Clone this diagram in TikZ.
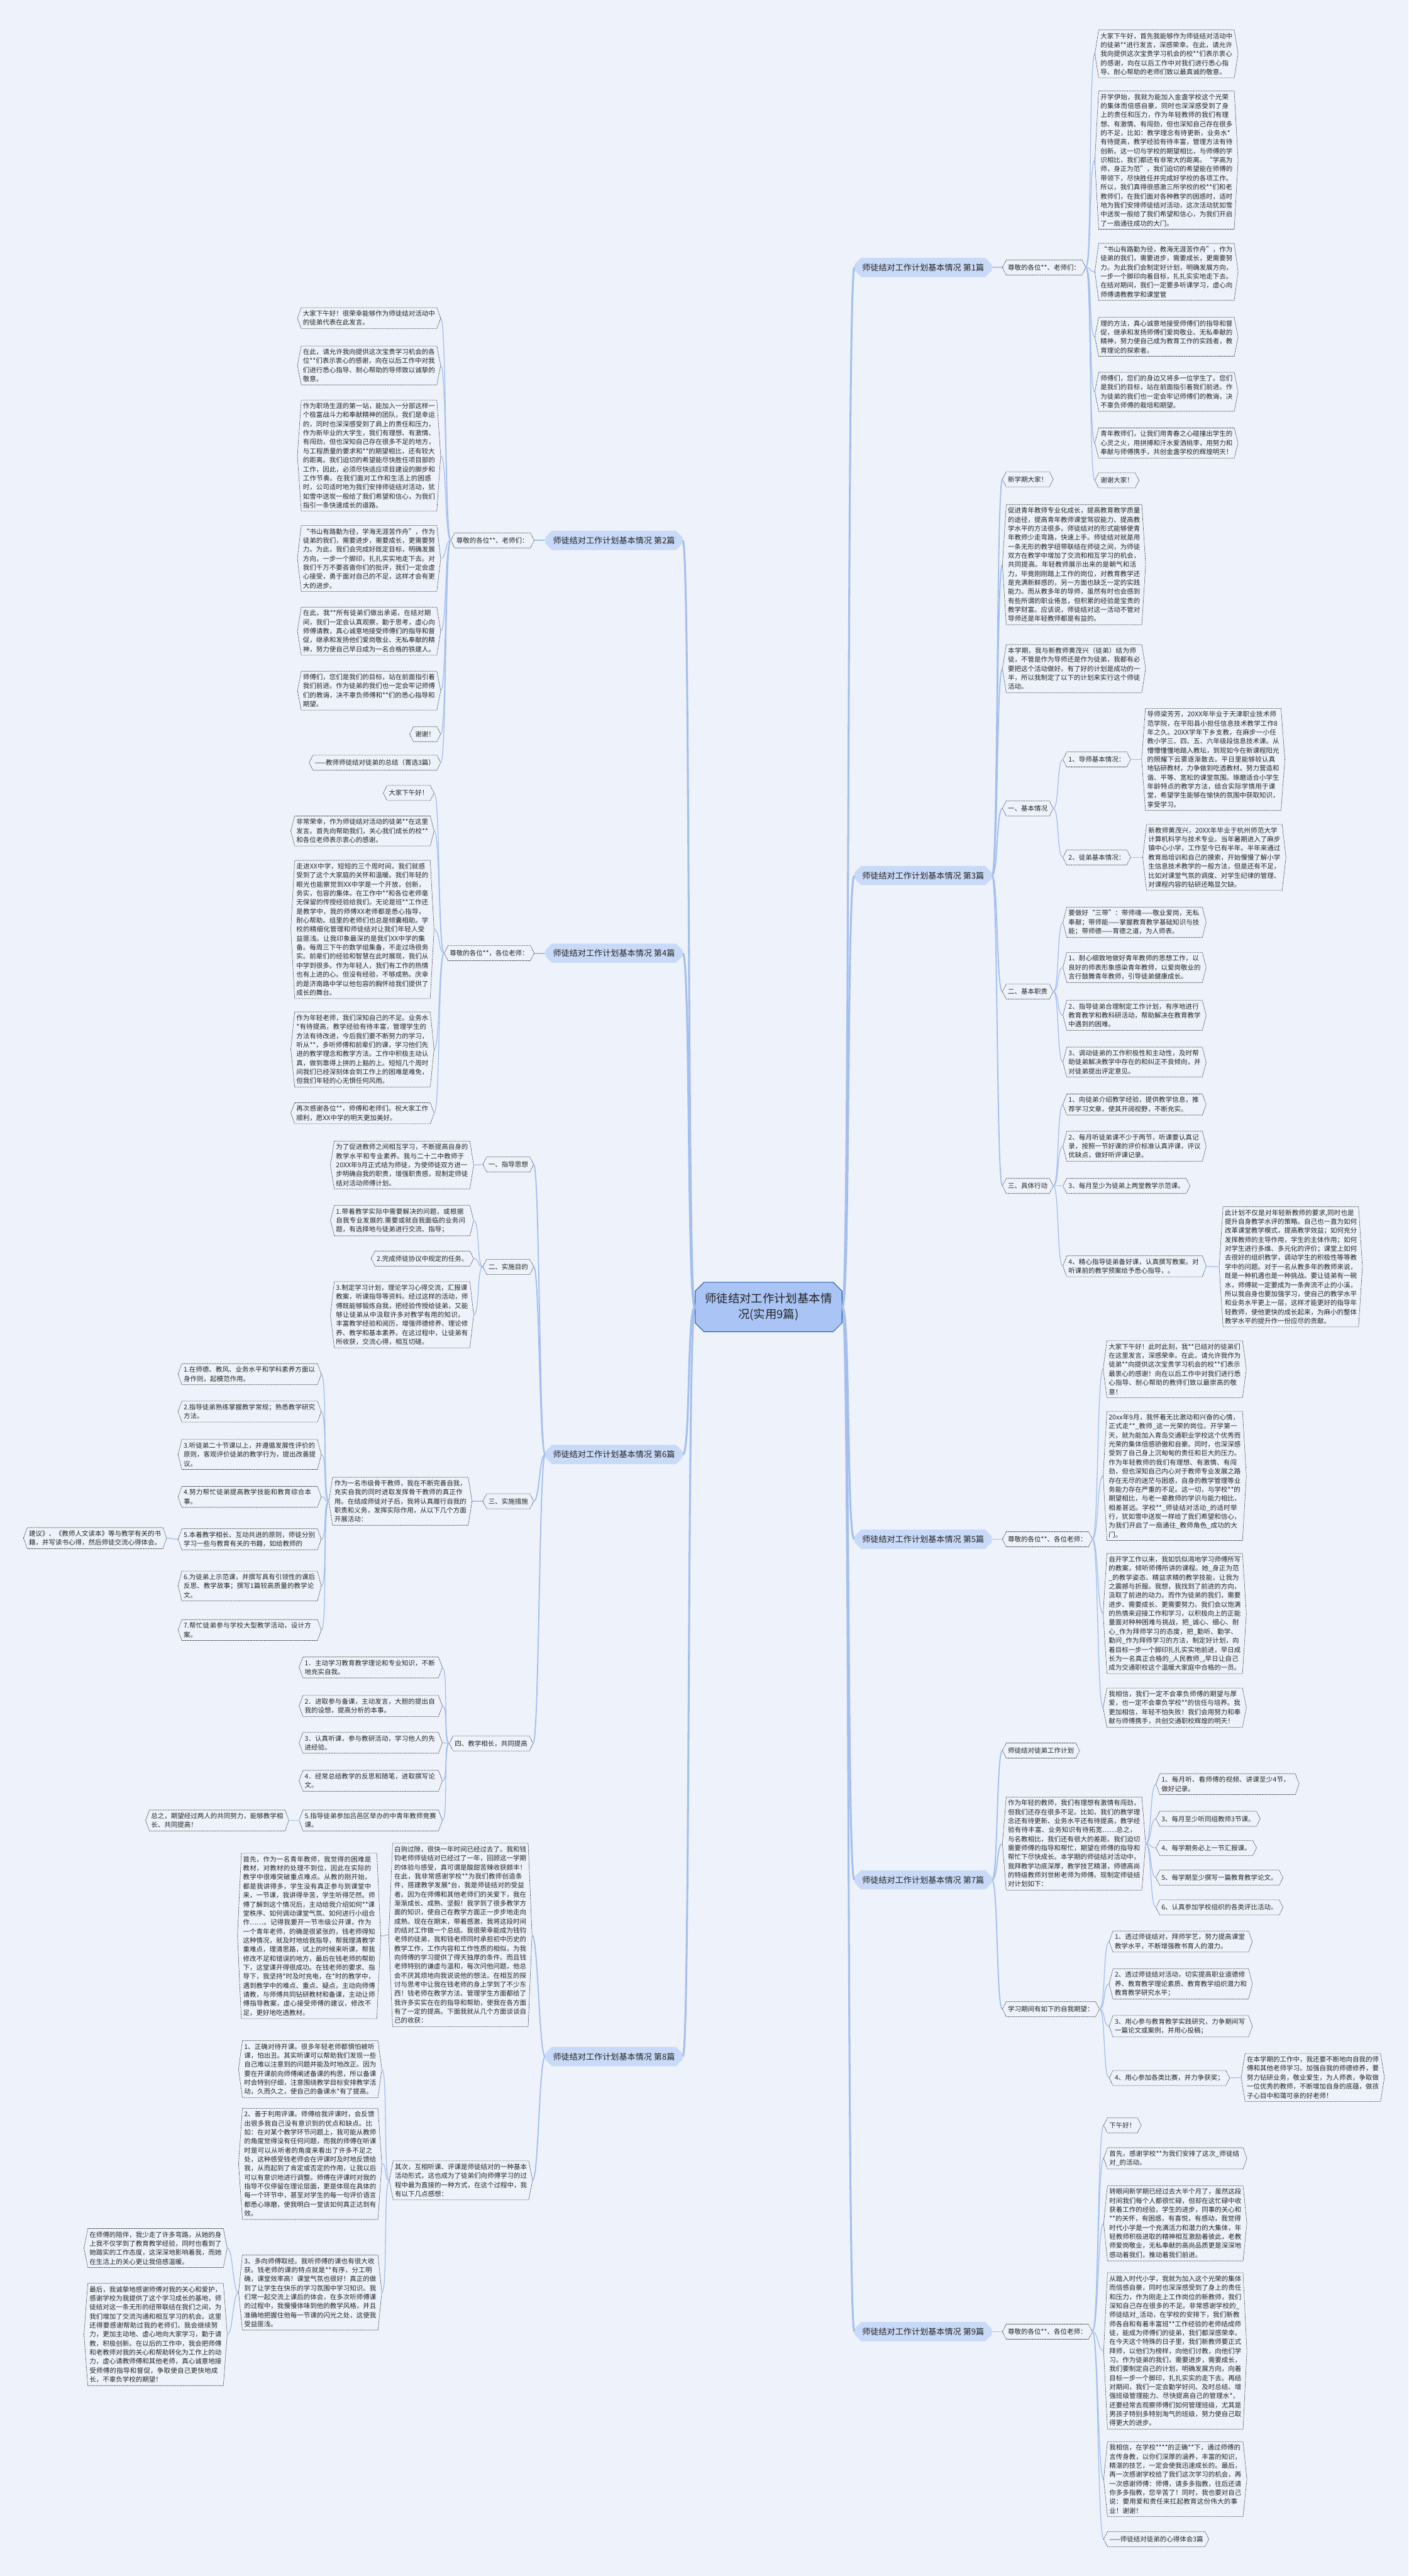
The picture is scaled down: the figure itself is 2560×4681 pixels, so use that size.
\documentclass[tikz,border=0pt]{standalone}
\usepackage{fontspec}
\setmainfont{Noto Sans CJK SC}
\usetikzlibrary{shapes.misc}
\XeTeXlinebreaklocale "zh"
\XeTeXlinebreakskip=0pt plus 1pt

\definecolor{bgblue}{RGB}{238,243,251}
\definecolor{rootfill}{RGB}{170,196,245}
\definecolor{rootedge}{RGB}{40,90,170}
\definecolor{partfill}{RGB}{201,218,248}
\definecolor{linkblue}{RGB}{164,191,238}
\definecolor{ink}{RGB}{35,35,35}

\tikzset{
  hexline/.style={draw=ink, line width=0.7pt, dash pattern=on 1.8pt off 1.2pt},
  hexbox/.style={font=\fontsize{12}{16.4}\selectfont, text=ink, inner xsep=10pt, inner ysep=5pt, minimum height=27pt,
    append after command={\pgfextra{\edef\hexname{\tikzlastnode}
      \draw[hexline] (\hexname.west) -- ([xshift=7pt]\hexname.north west) -- ([xshift=-7pt]\hexname.north east)
        -- (\hexname.east) -- ([xshift=-7pt]\hexname.south east) -- ([xshift=7pt]\hexname.south west) -- cycle;}}},
  tbox/.style={hexbox, text width=240pt, align=left},
  tr/.style={tbox, anchor=west}, tl/.style={tbox, anchor=east},
  sr/.style={hexbox, anchor=west}, sl/.style={hexbox, anchor=east},
  part/.style={chamfered rectangle, chamfered rectangle xsep=6pt, chamfered rectangle ysep=6pt, fill=partfill,
    text=ink, font=\fontsize{15}{18}\selectfont, inner xsep=8pt, minimum height=35pt},
  partr/.style={part, anchor=west}, partl/.style={part, anchor=east},
  root/.style={chamfered rectangle, chamfered rectangle xsep=8pt, chamfered rectangle ysep=8pt, fill=rootfill,
    draw=rootedge, line width=1.2pt, text=ink, font=\fontsize{21}{28}\selectfont, align=center, inner xsep=10pt, inner ysep=12pt},
  trunk/.style={draw=linkblue, line width=3.5pt},
  twig/.style={draw=linkblue, line width=2.2pt},
  link/.style={draw=linkblue, line width=1.5pt}
}

\begin{document}
\begin{tikzpicture}[x=1pt, y=-1pt]
  \useasboundingbox (0,0) rectangle (2560,4681);
  \fill[bgblue] (0,0) rectangle (2560,4681);

  \node[root] (root) at (1397,2375) {师徒结对工作计划基本情\\况(实用9篇)};

  % right: 1, 3, 5, 7, 9
  \node[partr] (s1) at (1553,486) {师徒结对工作计划基本情况 第1篇};
  \node[sr] (p1) at (1822,486) {尊敬的各位**、老师们：};
  \node[tr] (r1a) at (1990,98) {大家下午好，首先我能够作为师徒结对活动中的徒弟**进行发言，深感荣幸。在此，请允许我向提供这次宝贵学习机会的校**们表示衷心的感谢，向在以后工作中对我们进行悉心指导、耐心帮助的老师们致以最真诚的敬意。};
  \node[tr] (r1b) at (1990,291) {开学伊始，我就为能加入金盏学校这个光荣的集体而倍感自豪，同时也深深感受到了身上的责任和压力，作为年轻教师的我们有理想、有激情、有闯劲，但也深知自己存在很多的不足，比如：教学理念有待更新，业务水*有待提高，教学经验有待丰富，管理方法有待创新。这一切与学校的期望相比，与师傅的学识相比，我们都还有非常大的距离。“学高为师，身正为范”，我们迫切的希望能在师傅的带领下，尽快胜任并完成好学校的各项工作。所以，我们真得很感激三所学校的校**们和老教师们，在我们面对各种教学的困惑时，适时地为我们安排师徒结对活动，这次活动犹如雪中送炭一般给了我们希望和信心，为我们开启了一扇通往成功的大门。};
  \node[tr] (r1c) at (1990,494) {“书山有路勤为径，教海无涯苦作舟”，作为徒弟的我们，需要进步，需要成长，更需要努力。为此我们会制定好计划，明确发展方向，一步一个脚印向着目标，扎扎实实地走下去。在结对期间，我们一定要多听课学习，虚心向师傅请教教学和课堂管};
  \node[tr] (r1d) at (1990,612) {理的方法，真心诚意地接受师傅们的指导和督促，继承和发扬师傅们爱岗敬业、无私奉献的精神，努力使自己成为教育工作的实践者，教育理论的探索者。};
  \node[tr] (r1e) at (1990,712) {师傅们，您们的身边又将多一位学生了。您们是我们的目标，站在前面指引着我们前进。作为徒弟的我们也一定会牢记师傅们的教诲，决不辜负师傅的栽培和期望。};
  \node[tr] (r1f) at (1990,805) {青年教师们，让我们用青春之心碰撞出学生的心灵之火，用拼搏和汗水爱洒桃李，用努力和奉献与师傅携手，共创金盏学校的辉煌明天！};
  \node[sr] (r1g) at (1990,873) {谢谢大家！};

  \node[partr] (s3) at (1553,1591) {师徒结对工作计划基本情况 第3篇};
  \node[sr] (q3a) at (1822,871) {新学期大家！};
  \node[tr] (q3b) at (1822,1026) {促进青年教师专业化成长，提高教育教学质量的途径，提高青年教师课堂驾驭能力、提高教学水平的方法很多。师徒结对的形式能够使青年教师少走弯路，快速上手。师徒结对就是用一条无形的教学纽带联结在师徒之间，为师徒双方在教学中增加了交流和相互学习的机会，共同提高。年轻教师展示出来的是朝气和活力，毕竟刚刚踏上工作的岗位，对教育教学还是充满新鲜感的，另一方面也缺乏一定的实践能力。而从教多年的导师，虽然有时也会感到有些所谓的职业倦怠，但积累的经验是宝贵的教学财富。应该说，师徒结对这一活动不管对导师还是年轻教师都是有益的。};
  \node[tr] (q3c) at (1822,1215) {本学期，我与新教师黄茂兴（徒弟）结为师徒，不管是作为导师还是作为徒弟，我都有必要把这个活动做好。有了好的计划是成功的一半，所以我制定了以下的计划来实行这个师徒活动。};
  \node[sr] (q3d) at (1822,1469) {一、基本情况};
  \node[sr] (q3d1) at (1932,1380) {1、导师基本情况：};
  \node[tr] (q3d1a) at (2075,1380) {导师梁芳芳，20XX年毕业于天津职业技术师范学院，在平阳县小担任信息技术教学工作8年之久。20XX学年下乡支教，在麻步一小任教小学三、四、五、六年级段信息技术课。从懵懵懂懂地踏入教坛，到现如今在新课程阳光的照耀下云雾逐渐散去。平日里能够较认真地钻研教材，力争做到吃透教材。努力营造和谐、平等、宽松的课堂氛围。琢磨适合小学生年龄特点的教学方法，结合实际学情用于课堂，希望学生能够在愉快的氛围中获取知识，享受学习。};
  \node[sr] (q3d2) at (1932,1558) {2、徒弟基本情况：};
  \node[tr] (q3d2a) at (2077,1558) {新教师黄茂兴，20XX年毕业于杭州师范大学计算机科学与技术专业。当年暑期进入了麻步镇中心小学，工作至今已有半年。半年来通过教育局培训和自己的摸索，开始慢慢了解小学生信息技术教学的一般方法，但是还有不足，比如对课堂气氛的调度、对学生纪律的管理、对课程内容的钻研还略显欠缺。};
  \node[sr] (q3e) at (1822,1802) {二、基本职责};
  \node[tr] (q3e1) at (1932,1676) {要做好“三带”：带师魂——敬业爱岗，无私奉献；带师能——掌握教育教学基础知识与技能；带师德——育德之道，为人师表。};
  \node[tr] (q3e2) at (1932,1758) {1、耐心细致地做好青年教师的思想工作，以良好的师表形象感染青年教师，以爱岗敬业的言行鼓舞青年教师，引导徒弟健康成长。};
  \node[tr] (q3e3) at (1932,1845) {2、指导徒弟合理制定工作计划，有序地进行教育教学和教科研活动，帮助解决在教育教学中遇到的困难。};
  \node[tr] (q3e4) at (1932,1930) {3、调动徒弟的工作积极性和主动性，及时帮助徒弟解决教学中存在的和纠正不良倾向，并对徒弟提出评定意见。};
  \node[sr] (q3f) at (1822,2155) {三、具体行动};
  \node[tr] (q3f1) at (1932,2007) {1、向徒弟介绍教学经验，提供教学信息，推荐学习文章，使其开阔视野，不断充实。};
  \node[tr] (q3f2) at (1932,2083) {2、每月听徒弟课不少于两节，听课要认真记录，按照一节好课的评价标准认真评课，评议优缺点，做好听评课记录。};
  \node[sr] (q3f3) at (1932,2155) {3、每月至少为徒弟上两堂教学示范课。};
  \node[tr] (q3f4) at (1932,2301) {4、精心指导徒弟备好课，认真撰写教案。对听课前的教学预案给予悉心指导，。};
  \node[tr] (q3f4a) at (2216,2302) {此计划不仅是对年轻新教师的要求,同时也是提升自身教学水评的策略。自己也一直为如何改革课堂教学模式，提高教学效益；如何充分发挥教师的主导作用，学生的主体作用；如何对学生进行多维、多元化的评价；课堂上如何去很好的组织教学，调动学生的积极性等等教学中的问题。对于一名从教多年的教师来说，既是一种机遇也是一种挑战。要让徒弟有一碗水，师傅就一定要成为一条奔流不止的小溪，所以我自身也要加强学习，使自己的教学水平和业务水平更上一层，这样才能更好的指导年轻教师，使他更快的成长起来，为麻小的整体教学水平的提升作一份应尽的贡献。};

  \node[partr] (s5) at (1553,2797) {师徒结对工作计划基本情况 第5篇};
  \node[sr] (p5) at (1822,2797) {尊敬的各位**、各位老师：};
  \node[tr] (r5a) at (2005,2488) {大家下午好！此时此刻，我**已结对的徒弟们在这里发言，深感荣幸。在此，请允许我作为徒弟**向提供这次宝贵学习机会的校**们表示最衷心的感谢！向在以后工作中对我们进行悉心指导、耐心帮助的教师们致以最崇高的敬意！};
  \node[tr] (r5b) at (2005,2682) {20xx年9月，我怀着无比激动和兴奋的心情，正式走**\_教师\_这一光荣的岗位。开学第一天，就为能加入青岛交通职业学校这个优秀而光荣的集体倍感骄傲和自豪。同时，也深深感受到了自己身上沉甸甸的责任和巨大的压力。作为年轻教师的我们有理想、有激情、有闯劲，但也深知自己内心对于教师专业发展之路存在无尽的迷茫与困惑，自身的教学管理等业务能力存在严重的不足。这一切，与学校**的期望相比，与老一辈教师的学识与能力相比，相差甚远。学校**\_师徒结对活动\_的适时举行，犹如雪中送炭一样给了我们希望和信心，为我们开启了一扇通往\_教师角色\_成功的大门。};
  \node[tr] (r5c) at (2005,2932) {自开学工作以来，我如饥似渴地学习师傅所写的教案，倾听师傅所讲的课程。她\_身正为范\_的教学姿态、精益求精的教学技能，让我为之震撼与折服。我想，我找到了前进的方向，汲取了前进的动力。而作为徒弟的我们，需要进步、需要成长、更需要努力。我们会以饱满的热情来迎接工作和学习，以积极向上的正能量面对种种困难与挑战，把\_诚心、细心、耐心\_作为拜师学习的态度，把\_勤听、勤学、勤问\_作为拜师学习的方法，制定好计划，向着目标一步一个脚印扎扎实实地前进，早日成长为一名真正合格的\_人民教师\_,早日让自己成为交通职校这个温暖大家庭中合格的一员。};
  \node[tr] (r5d) at (2005,3103) {我相信，我们一定不会辜负师傅的期望与厚爱，也一定不会辜负学校**的信任与培养。我更加相信，年轻不怕失败！我们会用努力和奉献与师傅携手，共创交通职校辉煌的明天！};

  \node[partr] (s7) at (1553,3416) {师徒结对工作计划基本情况 第7篇};
  \node[sr] (q7a) at (1822,3181) {师徒结对徒弟工作计划};
  \node[tr] (q7b) at (1822,3350) {作为年轻的教师，我们有理想有激情有闯劲，但我们还存在很多不足。比如，我们的教学理念还有待更新、业务水平还有待提高，教学经验有待丰富、业务知识有待拓宽……总之，与名教相比，我们还有很大的差距。我们迫切需要师傅的指导和帮忙，期望在师傅的指导和帮忙下尽快成长。本学期的师徒结对活动中，我拜教学功底深厚，教学技艺精湛，师德高尚的特级教师刘世彬老师为师傅。现制定师徒结对计划如下：};
  \node[tr] (q7b1) at (2101,3242) {1、每月听、看师傅的视频、讲课至少4节，做好记录。};
  \node[sr] (q7b3) at (2101,3305) {3、每月至少听同组教师3节课。};
  \node[sr] (q7b4) at (2101,3358) {4、每学期务必上一节汇报课。};
  \node[sr] (q7b5) at (2101,3412) {5、每学期至少撰写一篇教育教学论文。};
  \node[sr] (q7b6) at (2101,3466) {6、认真参加学校组织的各类评比活动。};
  \node[sr] (q7c) at (1822,3651) {学习期间有如下的自我期望：};
  \node[tr] (q7c1) at (2016,3528) {1、透过师徒结对，拜师学艺，努力提高课堂教学水平，不断增强教书育人的潜力。};
  \node[tr] (q7c2) at (2016,3605) {2、透过师徒结对活动，切实提高职业道德修养、教育教学理论素质、教育教学组织潜力和教育教学研究水平；};
  \node[tr] (q7c3) at (2016,3682) {3、用心参与教育教学实践研究，力争期间写一篇论文或案例，并用心投稿；};
  \node[sr] (q7c4) at (2016,3776) {4、用心参加各类比赛，并力争获奖；};
  \node[tr] (q7c4a) at (2256,3775) {在本学期的工作中，我还要不断地向自我的师傅和其他老师学习。加强自我的师德修养，要努力钻研业务，敬业爱生，为人师表，争取做一位优秀的教师，不断增加自身的底蕴，做孩子心目中和蔼可亲的好老师！};

  \node[partr] (s9) at (1553,4237) {师徒结对工作计划基本情况 第9篇};
  \node[sr] (p9) at (1822,4237) {尊敬的各位**、各位老师：};
  \node[sr] (r9a) at (2006,3862) {下午好！};
  \node[tr] (r9b) at (2006,3922) {首先，感谢学校**为我们安排了这次\_师徒结对\_的活动。};
  \node[tr] (r9c) at (2006,4040) {转眼间新学期已经过去大半个月了，虽然这段时间我们每个人都很忙碌，但却在这忙碌中收获着工作的经验，学生的进步，同事的关心和**的关怀，有困惑，有喜悦，有感动，我觉得时代小学是一个充满活力和潜力的大集体，年轻教师积极进取的精神相互激励着彼此，老教师爱岗敬业，无私奉献的高尚品质更是深深地感动着我们，推动着我们前进。};
  \node[tr] (r9d) at (2006,4272) {从踏入时代小学，我就为加入这个光荣的集体而倍感自豪，同时也深深感受到了身上的责任和压力，作为刚走上工作岗位的新教师，我们深知自己存在很多的不足。非常感谢学校的\_师徒结对\_活动，在学校的安排下，我们新教师各自和有着丰富班**工作经验的老师结成师徒，能成为师傅们的徒弟，我们都深感荣幸。在今天这个特殊的日子里，我们新教师要正式拜师，以他们为榜样，向他们讨教，向他们学习。作为徒弟的我们，需要进步，需要成长，我们要制定自己的计划，明确发展方向，向着目标一步一个脚印，扎扎实实的走下去。再结对期间，我们一定会勤学好问、及时总结、增强班级管理能力、尽快提高自己的管理水*，还要经常去观察师傅们如何管理班级，尤其是男孩子特别多特别淘气的班级，努力使自己取得更大的进步。};
  \node[tr] (r9e) at (2006,4505) {我相信，在学校****的正确**下，通过师傅的言传身教，以你们深厚的涵养，丰富的知识，精湛的技艺，一定会使我迅速成长的。最后，再一次感谢学校给了我们这次学习的机会，再一次感谢师傅：师傅，请多多指教，往后还请你多多指教，您辛苦了！同时，我也要对自己说：要用爱和责任来扛起教育这份伟大的事业！谢谢！};
  \node[sr] (r9f) at (2006,4614) {——师徒结对徒弟的心得体会3篇};

  % left: 2, 4, 6, 8
  \node[partl] (s2) at (1241,982) {师徒结对工作计划基本情况 第2篇};
  \node[sl] (p2) at (971,982) {尊敬的各位**、老师们：};
  \node[tl] (l2a) at (801,578) {大家下午好！很荣幸能够作为师徒结对活动中的徒弟代表在此发言。};
  \node[tl] (l2b) at (801,664) {在此，请允许我向提供这次宝贵学习机会的各位**们表示衷心的感谢，向在以后工作中对我们进行悉心指导、耐心帮助的导师致以诚挚的敬意。};
  \node[tl] (l2c) at (801,828) {作为职场生涯的第一站，能加入一分部这样一个极富战斗力和奉献精神的团队，我们是幸运的，同时也深深感受到了肩上的责任和压力，作为新毕业的大学生，我们有理想、有激情、有闯劲，但也深知自己存在很多不足的地方，与工程质量的要求和**的期望相比，还有较大的距离。我们迫切的希望能尽快胜任项目部的工作，因此，必须尽快适应项目建设的脚步和工作节奏。在我们面对工作和生活上的困惑时，公司适时地为我们安排师徒结对活动，犹如雪中送炭一般给了我们希望和信心，为我们指引一条快速成长的道路。};
  \node[tl] (l2d) at (801,1015) {“书山有路勤为径，学海无涯苦作舟”，作为徒弟的我们，需要进步，需要成长，更需要努力。为此，我们会完成好既定目标，明确发展方向，一步一个脚印，扎扎实实地走下去。对我们千万不要吝啬你们的批评，我们一定会虚心接受，勇于面对自己的不足，这样才会有更大的进步。};
  \node[tl] (l2e) at (801,1147) {在此，我**所有徒弟们做出承诺，在结对期间，我们一定会认真观察，勤于思考，虚心向师傅请教，真心诚意地接受师傅们的指导和督促，继承和发扬他们爱岗敬业、无私奉献的精神，努力使自己早日成为一名合格的铁建人。};
  \node[tl] (l2f) at (801,1255) {师傅们，您们是我们的目标，站在前面指引着我们前进。作为徒弟的我们也一定会牢记师傅们的教诲，决不辜负师傅和**们的悉心指导和期望。};
  \node[sl] (l2g) at (801,1334) {谢谢！};
  \node[sl] (l2h) at (801,1386) {——教师师徒结对徒弟的总结（菁选3篇）};

  \node[partl] (s4) at (1241,1732) {师徒结对工作计划基本情况 第4篇};
  \node[sl] (p4) at (971,1732) {尊敬的各位**，各位老师：};
  \node[sl] (l4a) at (789,1441) {大家下午好！};
  \node[tl] (l4b) at (789,1510) {非常荣幸，作为师徒结对活动的徒弟**在这里发言。首先向帮助我们，关心我们成长的校**和各位老师表示衷心的感谢。};
  \node[tl] (l4c) at (789,1689) {走进XX中学，短短的三个周时间，我们就感受到了这个大家庭的关怀和温暖。我们年轻的眼光也能察觉到XX中学是一个开放，创新，务实，包容的集体。在工作中**和各位老师毫无保留的传授经验给我们。无论是班**工作还是教学中，我的师傅XX老师都是悉心指导，耐心帮助。组里的老师们也总是倾囊相助。学校的精细化管理和师徒结对让我们年轻人受益匪浅。让我印象最深的是我们XX中学的集备。每周三下午的数学组集备，不走过场很务实。前辈们的经验和智慧在此时展现，我们从中学到很多。作为年轻人，我们有工作的热情也有上进的心。但没有经验，不够成熟。庆幸的是济南路中学以他包容的胸怀给我们提供了成长的舞台。};
  \node[tl] (l4d) at (789,1907) {作为年轻老师，我们深知自己的不足。业务水*有待提高，教学经验有待丰富，管理学生的方法有待改进，今后我们要不断努力的学习，听从**，多听师傅和前辈们的课，学习他们先进的教学理念和教学方法。工作中积极主动认真，做到靠得上拼的上豁的上。短短几个周时间我们已经深刻体会到工作上的困难是难免，但我们年轻的心无惧任何风雨。};
  \node[tl] (l4e) at (789,2023) {再次感谢各位**，师傅和老师们。祝大家工作顺利，愿XX中学的明天更加美好。};

  \node[partl] (s6) at (1241,2643) {师徒结对工作计划基本情况 第6篇};
  \node[sl] (k6a) at (970,2116) {一、指导思想};
  \node[tl] (k6a1) at (861,2117) {为了促进教师之间相互学习，不断提高自身的教学水平和专业素养。我与二十二中教师于20XX年9月正式结为师徒，为使师徒双方进一步明确自我的职责，增强职责感，现制定师徒结对活动师傅计划。};
  \node[sl] (k6b) at (970,2302) {二、实施目的};
  \node[tl] (k6b1) at (861,2218) {1.带着教学实际中需要解决的问题，或根据自我专业发展的.需要或就自我面临的业务问题，有选择地与徒弟进行交流、指导；};
  \node[sl] (k6b2) at (861,2287) {2.完成师徒协议中规定的任务。};
  \node[tl] (k6b3) at (861,2389) {3.制定学习计划，理论学习心得交流，汇报课教案，听课指导等资料。经过这样的活动，师傅既能够锻炼自我，把经验传授给徒弟，又能够让徒弟从中汲取许多对教学有用的知识，丰富教学经验和阅历，增强师德修养、理论修养、教学和基本素养。在这过程中，让徒弟有所收获，交流心得，相互切磋。};
  \node[sl] (k6c) at (970,2728) {三、实施措施};
  \node[tl] (k6c1) at (858,2728) {作为一名市级骨干教师，我在不断完善自我，充实自我的同时进取发挥骨干教师的真正作用。在结成师徒对子后，我将认真履行自我的职责和义务，发挥实际作用，从以下几个方面开展活动：};
  \node[tl] (m1) at (584,2497) {1.在师德、教风、业务水平和学科素养方面以身作则，起模范作用。};
  \node[tl] (m2) at (584,2565) {2.指导徒弟熟练掌握教学常规；熟悉教学研究方法。};
  \node[tl] (m3) at (584,2643) {3.听徒弟二十节课以上，并遵循发展性评价的原则，客观评价徒弟的教学行为，提出改善提议。};
  \node[tl] (m4) at (584,2720) {4.努力帮忙徒弟提高教学技能和教育综合本事。};
  \node[tl] (m5) at (584,2797) {5.本着教学相长、互动共进的原则，师徒分别学习一些与教育有关的书籍，如给教师的};
  \node[tl] (m5a) at (303,2795) {建议》、《教师人文读本》等与教学有关的书籍，并写读书心得，然后师徒交流心得体会。};
  \node[tl] (m6) at (584,2882) {6.为徒弟上示范课，并撰写具有引领性的课后反思、教学故事；撰写1篇较高质量的教学论文。};
  \node[tl] (m7) at (584,2962) {7.帮忙徒弟参与学校大型教学活动，设计方案。};
  \node[sl] (k6d) at (969,3168) {四、教学相长，共同提高};
  \node[tl] (n1) at (804,3030) {1．主动学习教育教学理论和专业知识，不断地充实自我。};
  \node[tl] (n2) at (804,3100) {2．进取参与备课，主动发言，大胆的提出自我的设想，提高分析的本事。};
  \node[tl] (n3) at (804,3167) {3．认真听课，参与教研活动，学习他人的先进经验。};
  \node[tl] (n4) at (804,3236) {4．经常总结教学的反思和随笔，进取撰写论文。};
  \node[tl] (n5) at (804,3308) {5.指导徒弟参加吕邑区举办的中青年教师竞赛课。};
  \node[tl] (n5a) at (525,3308) {总之，期望经过两人的共同努力，能够教学相长、共同提高！};

  \node[partl] (s8) at (1241,3737) {师徒结对工作计划基本情况 第8篇};
  \node[tl] (k8a) at (967,3516) {白驹过隙，很快一年时间已经过去了。我和钱钧老师师徒结对已经过了一年，回顾这一学期的体验与感受，真可谓是酸甜苦辣收获颇丰！在此，我非常感谢学校**为我们教师创造条件，搭建教学发展*台，我是师徒结对的受益者。因为在师傅和其他老师们的关爱下，我在渐渐成长、成熟、坚毅！我学到了很多教学方面的知识，使自己在教学方面正一步步地走向成熟。现在在期末，带着感激，我将这段时间的结对工作做一个总结。我很荣幸能成为钱钧老师的徒弟，我和钱老师同时承担初中历史的教学工作，工作内容和工作性质的相似，为我向师傅的学习提供了得天独厚的条件。而且钱老师特别的谦虚与温和，每次问他问题，他总会不厌其烦地向我说说他的想法。在相互的探讨与思考中让我在钱老师的身上学到了不少东西！钱老师在教学方法、管理学生方面都给了我许多实实在在的指导和帮助，使我在各方面有了一定的提高。下面我就从几个方面谈谈自己的收获：};
  \node[tl] (k8a1) at (692,3518) {首先，作为一名青年教师，我觉得的困难是教材，对教材的处理不到位，因此在实际的教学中很难突破重点难点。从教的刚开始，都是我讲得多，学生没有真正参与到课堂中来，一节课，我讲得辛苦，学生听得茫然。师傅了解到这个情况后，主动给我介绍如何**课堂秩序、如何调动课堂气氛、如何进行小组合作……。记得我要开一节市级公开课，作为一个青年老师，的确是很紧张的，钱老师得知这种情况，就及时地给我指导，帮我理清教学重难点，理清思路，试上的时候来听课，帮我修改不足和错误的地方，最后在钱老师的帮助下，这堂课开得很成功。在钱老师的要求、指导下，我坚持*时及时充电，在*时的教学中，遇到教学中的难点、重点、疑点，主动向师傅请教，与师傅共同钻研教材和备课，主动让师傅指导教案，虚心接受师傅的建议，修改不足，更好地吃透教材。};
  \node[tl] (k8b) at (968,3962) {其次，互相听课、评课是师徒结对的一种基本活动形式，这也成为了徒弟们向师傅学习的过程中最为直接的一种方式，在这个过程中，我有以下几点感想：};
  \node[tl] (k8b1) at (694,3760) {1、正确对待开课。很多年轻老师都惧怕被听课，怕出丑。其实听课可以帮助我们发现一些自己难以注意到的问题并能及时地改正。因为要在开课前向师傅阐述备课的构思，所以备课时会特别仔细，注意围绕教学目标安排教学活动，久而久之，使自己的备课水*有了提高。};
  \node[tl] (k8b2) at (694,3932) {2、善于利用评课。师傅给我评课时，会反馈出很多我自己没有意识到的优点和缺点。比如：在对某个教学环节问题上，我可能从教师的角度觉得没有任何问题，而我的师傅在听课时是可以从听者的角度来看出了许多不足之处，这种感受钱老师会在评课时及时地反馈给我，从而起到了肯定或否定的作用，让我以后可以有意识地进行调整。师傅在评课时对我的指导不仅停留在理论层面，更是体现在具体的每一个环节中，甚至对学生的每一句评价语言都悉心琢磨，使我明白一堂该如何真正达到有效。};
  \node[tl] (k8b3) at (694,4166) {3、多向师傅取经。我听师傅的课也有很大收获。钱老师的课的特点就是**有序，分工明确，课堂效率高！课堂气氛也很好！真正的做到了让学生在快乐的学习氛围中学习知识。我们常一起交流上课后的体会，在多次听师傅课的过程中，我慢慢体味到他的教学风格，并且准确地把握住他每一节课的闪光之处，这使我受益匪浅。};
  \node[tl] (k8b3a) at (413,4085) {在师傅的陪伴，我少走了许多弯路，从她的身上我不仅学到了教育教学经验，同时也看到了她踏实的工作态度，这深深地影响着我，而她在生活上的关心更让我倍感温暖。};
  \node[tl] (k8b3b) at (413,4242) {最后，我诚挚地感谢师傅对我的关心和爱护，感谢学校为我提供了这个学习成长的基地，师徒结对这一条无形的纽带联结在我们之间，为我们增加了交流沟通和相互学习的机会。这里还得要感谢帮助过我的老师们，我会继续努力，更加主动地、虚心地向大家学习，勤于请教，积极创新。在以后的工作中，我会把师傅和老教师对我的关心和帮助转化为工作上的动力，虚心请教师傅和其他老师，真心诚意地接受师傅的指导和督促，争取使自己更快地成长，不辜负学校的期望！};

  % connectors
  \foreach \c in {s1,s3,s5,s7,s9}
    \draw[trunk] (root.east) .. controls +(14,0) and +(-14,0) .. (\c.west);
  \foreach \c in {s2,s4,s6,s8}
    \draw[trunk] (root.west) .. controls +(-14,0) and +(14,0) .. (\c.east);

  \foreach \a/\b in {s1/p1, s3/q3a, s3/q3b, s3/q3c, s3/q3d, s3/q3e, s3/q3f, s5/p5, s7/q7a, s7/q7b, s7/q7c, s9/p9}
    \draw[twig] (\a.east) .. controls +(11,0) and +(-11,0) .. (\b.west);
  \foreach \a/\b in {s2/p2, s4/p4, s6/k6a, s6/k6b, s6/k6c, s6/k6d, s8/k8a, s8/k8b}
    \draw[twig] (\a.west) .. controls +(-11,0) and +(11,0) .. (\b.east);

  \foreach \a/\b in {p1/r1a, p1/r1b, p1/r1c, p1/r1d, p1/r1e, p1/r1f, p1/r1g,
      q3d/q3d1, q3d/q3d2, q3d1/q3d1a, q3d2/q3d2a,
      q3e/q3e1, q3e/q3e2, q3e/q3e3, q3e/q3e4,
      q3f/q3f1, q3f/q3f2, q3f/q3f3, q3f/q3f4, q3f4/q3f4a,
      p5/r5a, p5/r5b, p5/r5c, p5/r5d,
      q7b/q7b1, q7b/q7b3, q7b/q7b4, q7b/q7b5, q7b/q7b6,
      q7c/q7c1, q7c/q7c2, q7c/q7c3, q7c/q7c4, q7c4/q7c4a,
      p9/r9a, p9/r9b, p9/r9c, p9/r9d, p9/r9e, p9/r9f}
    \draw[link] (\a.east) .. controls +(11,0) and +(-11,0) .. (\b.west);
  \foreach \a/\b in {p2/l2a, p2/l2b, p2/l2c, p2/l2d, p2/l2e, p2/l2f, p2/l2g, p2/l2h,
      p4/l4a, p4/l4b, p4/l4c, p4/l4d, p4/l4e,
      k6a/k6a1, k6b/k6b1, k6b/k6b2, k6b/k6b3, k6c/k6c1,
      k6c1/m1, k6c1/m2, k6c1/m3, k6c1/m4, k6c1/m5, k6c1/m6, k6c1/m7, m5/m5a,
      k6d/n1, k6d/n2, k6d/n3, k6d/n4, k6d/n5, n5/n5a,
      k8a/k8a1, k8b/k8b1, k8b/k8b2, k8b/k8b3, k8b3/k8b3a, k8b3/k8b3b}
    \draw[link] (\a.west) .. controls +(-11,0) and +(11,0) .. (\b.east);
\end{tikzpicture}
\end{document}
